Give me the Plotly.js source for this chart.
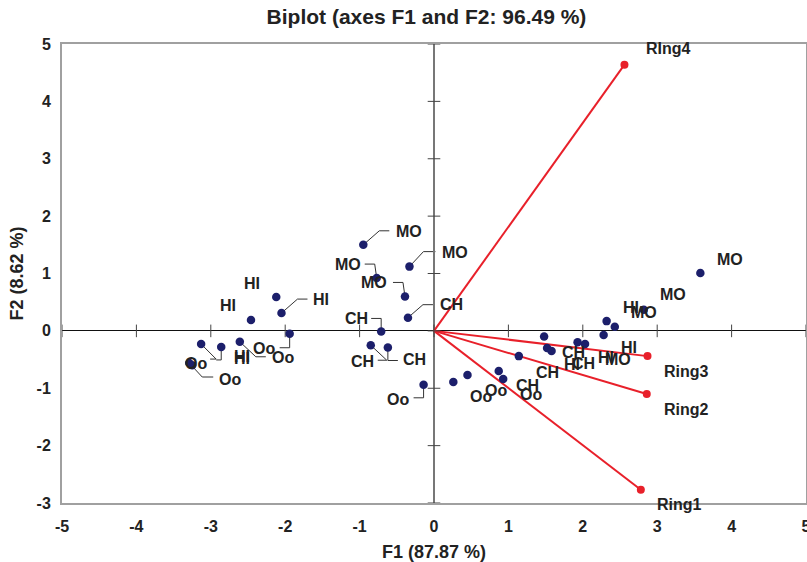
<!DOCTYPE html>
<html>
<head>
<meta charset="utf-8">
<script src="https://cdn.plot.ly/plotly-3.0.1.min.js"></script>
<style>html,body{margin:0;padding:0;background:#fff;}#chart{width:807px;height:562px;}</style>
</head>
<body>
<div id="chart"></div>
<script>
// ---- data: observations (F1, F2) ----
const obsLabels = ['HI','HI','HI','Oo','Oo','HI','HI','Oo','Oo',
                   'MO','MO','MO','MO','CH','CH','CH','CH','Oo',
                   'Oo','Oo','CH','Oo','CH','CH','HI','CH','HI','MO','HI','HI','MO','MO','MO'];
const obsF1 = [-2.12,-2.05,-2.46,-1.94,-2.61,-3.13,-2.86,-3.29,-3.25,
               -0.95,-0.33,-0.77,-0.39,-0.35,-0.71,-0.85,-0.62,-0.14,
               0.26,0.45,0.87,0.93,1.14,1.48,1.52,1.58,1.93,2.03,2.28,2.32,2.43,2.82,3.58];
const obsF2 = [0.59,0.31,0.19,-0.05,-0.19,-0.23,-0.28,-0.56,-0.60,
               1.50,1.12,0.92,0.60,0.23,-0.01,-0.25,-0.29,-0.94,
               -0.89,-0.77,-0.70,-0.84,-0.44,-0.10,-0.30,-0.35,-0.20,-0.23,-0.07,0.17,0.07,0.37,1.01];

// ---- data: variables (vectors) ----
const varNames = ['Ring1','Ring2','Ring3','RIng4'];
const varF1 = [2.78, 2.86, 2.87, 2.56];
const varF2 = [-2.77, -1.10, -0.44, 4.64];

// ---- tick labels ----
const xTickVals = [-5,-4,-3,-2,-1,0,1,2,3,4,5];
const xTickText = ['-5','-4','-3','-2','-1','0','1','2','3','4','5'];
const yTickVals = [-3,-2,-1,0,1,2,3,4,5];
const yTickText = ['-3','-2','-1','0','1','2','3','4','5'];

// ---- label placement (screen pixel offsets of label centre from its point, y down) ----
const obsLabelOffsets = [
  [-24,-14],[40,-14],[-23,-14],[-7,24],[24,7],[41,12],[21,12],[41,16],[4,-2],
  [46,-13],[46,-14],[-29,-14],[-31,-14],[44,-13],[-25,-13],[-8,16],[27,12],[-26,15],
  [28,15],[29,15],[29,14],[28,15],[29,16],[29,16],[25,16],[32,13],[28,15],[33,15],[25,13],[24,-14],[29,-14],[29,-15],[30,-13]
];
// leader lines: [point index, [elbow], [end]] in screen pixels (y down)
const leaders = [
  [1,[16,-14],[26,-14]],
  [3,[0,14],[-10,14]],
  [4,[16,15],[26,15]],
  [5,[15,15],[9,15]],
  [6,[0,13],[-5,13]],
  [7,[13,14],[24,14]],
  [9,[16,-14],[26,-14]],
  [10,[14,-15],[26,-15]],
  [11,[-2,-14],[-12,-14]],
  [12,[-2,-14],[-12,-14]],
  [13,[15,-13],[25,-13]],
  [14,[0,-13],[-10,-13]],
  [15,[16,15],[7,15]],
  [16,[0,13],[10,13]],
  [17,[0,13],[-10,13]]
];
const varLabelOffsets = [[39,15],[40,16],[39,15],[44,-16]];

const FONT = '"Liberation Sans", Arial, sans-serif';
const TXT = '#222222';

const traces = [];
// vectors
const vx = [], vy = [];
varF1.forEach((v,i)=>{ vx.push(0, v, null); vy.push(0, varF2[i], null); });
traces.push({type:'scatter', mode:'lines', x:vx, y:vy, line:{color:'#e8202a', width:2}, hoverinfo:'skip', cliponaxis:false});
traces.push({type:'scatter', mode:'markers', x:varF1, y:varF2, marker:{color:'#e8202a', size:8}, cliponaxis:false});
// zero-line ticks
traces.push({type:'scatter', mode:'markers', x:xTickVals, y:xTickVals.map(()=>0),
  marker:{symbol:'line-ns', size:9, line:{color:'#444', width:1}}, cliponaxis:false, hoverinfo:'skip'});
traces.push({type:'scatter', mode:'markers', x:yTickVals.map(()=>0), y:yTickVals,
  marker:{symbol:'line-ew', size:9, line:{color:'#444', width:1}}, cliponaxis:false, hoverinfo:'skip'});
// observations
traces.push({type:'scatter', mode:'markers', x:obsF1, y:obsF2, text:obsLabels,
  marker:{color:'#1c1f6b', size:8.5}, cliponaxis:false});

const annotations = [];
obsLabels.forEach((t,i)=>{
  const o = obsLabelOffsets[i];
  annotations.push({x:obsF1[i], y:obsF2[i], xref:'x', yref:'y', text:t, showarrow:false,
    xshift:o[0], yshift:-o[1], font:{family:FONT, size:16, color:TXT, weight:'bold'}});
});
varNames.forEach((t,i)=>{
  const o = varLabelOffsets[i];
  annotations.push({x:varF1[i], y:varF2[i], xref:'x', yref:'y', text:t, showarrow:false,
    xshift:o[0], yshift:-o[1], font:{family:FONT, size:16, color:TXT, weight:'bold'}});
});

const shapes = leaders.map(l=>{
  const i = l[0];
  return {type:'path', xref:'x', yref:'y', xsizemode:'pixel', ysizemode:'pixel',
    xanchor:obsF1[i], yanchor:obsF2[i], layer:'below',
    path:`M0,0 L${l[1][0]},${-l[1][1]} L${l[2][0]},${-l[2][1]}`,
    line:{color:'#333', width:1}};
});

const layout = {
  width:807, height:562,
  margin:{l:62, r:1, t:44, b:59},
  paper_bgcolor:'#fff', plot_bgcolor:'#fff',
  showlegend:false,
  font:{family:FONT, color:TXT},
  title:{text:'Biplot (axes F1 and F2: 96.49 %)', x:0.5285, xanchor:'center', y:0.97, yanchor:'middle',
    font:{family:FONT, size:21, color:TXT, weight:'bold'}},
  xaxis:{range:[-5,5], showgrid:false, zeroline:true, zerolinecolor:'#777', zerolinewidth:2,
    showline:true, mirror:true, linecolor:'#a0a0a0', linewidth:2, ticks:'',
    tickvals:xTickVals, ticktext:xTickText, ticklabelstandoff:8, ticklabeloverflow:'allow',
    tickfont:{family:FONT, size:16, color:TXT, weight:'bold'},
    title:{text:'F1 (87.87 %)', standoff:14, font:{family:FONT, size:18, color:TXT, weight:'bold'}}},
  yaxis:{range:[-3,5], showgrid:false, zeroline:true, zerolinecolor:'#111', zerolinewidth:1,
    showline:true, mirror:true, linecolor:'#a0a0a0', linewidth:2, ticks:'',
    tickvals:yTickVals, ticktext:yTickText, ticklabelstandoff:6,
    tickfont:{family:FONT, size:16, color:TXT, weight:'bold'},
    title:{text:'F2 (8.62 %)', standoff:8, font:{family:FONT, size:18, color:TXT, weight:'bold'}}},
  annotations:annotations,
  shapes:shapes
};

Plotly.newPlot('chart', traces, layout, {displayModeBar:false, staticPlot:true});
</script>
</body>
</html>
